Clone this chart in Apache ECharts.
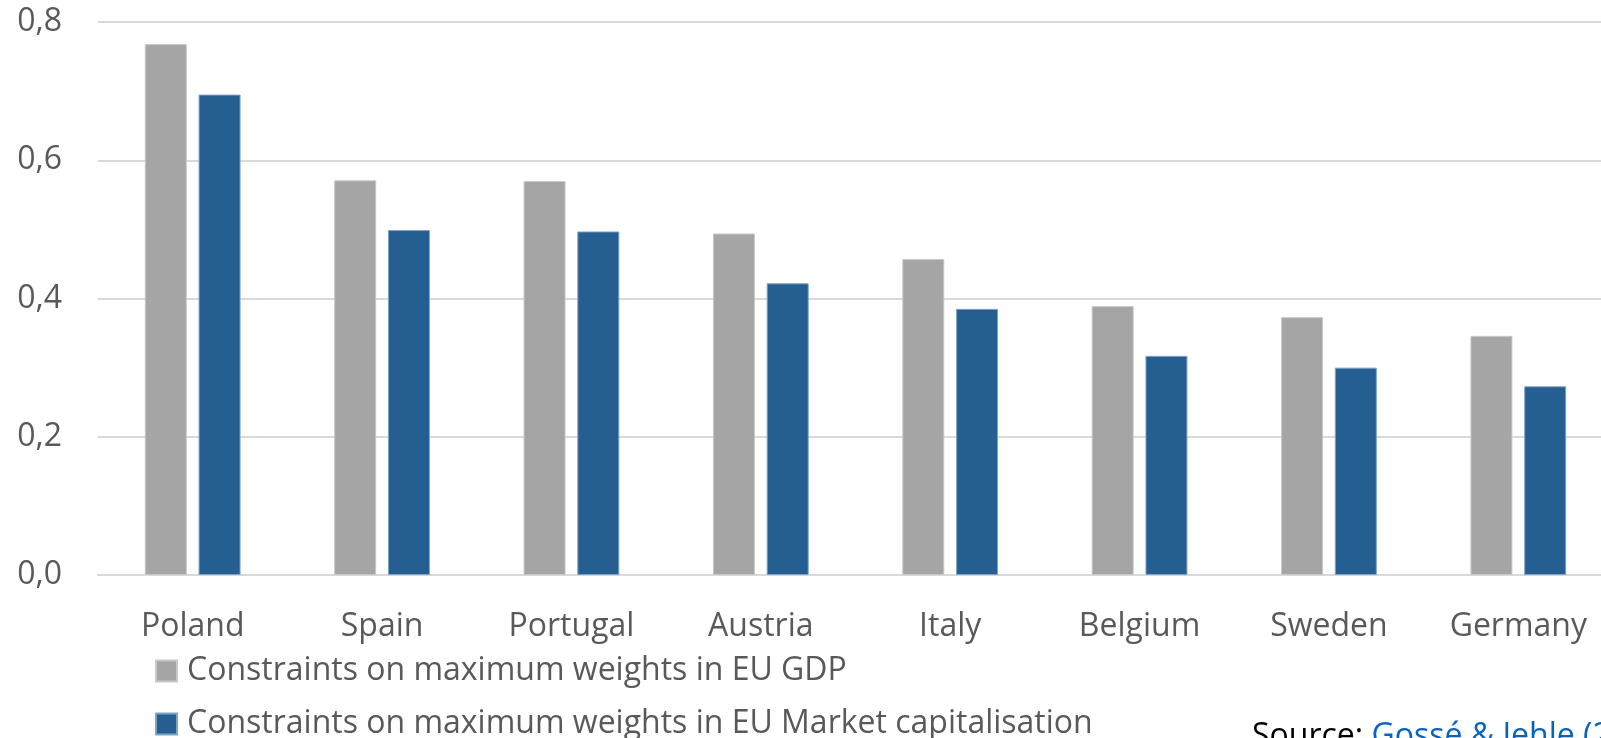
<!DOCTYPE html>
<html>
<head>
<meta charset="utf-8">
<script src="https://cdn.jsdelivr.net/npm/echarts@6/dist/echarts.min.js"></script>
<style>
  html, body { margin: 0; padding: 0; background: #ffffff; overflow: hidden; }
  #wrap { width: 1601px; height: 738px; overflow: hidden; }
  /* the plot runs slightly past the right edge of the page */
  #chart { width: 1613px; height: 738px; }
</style>
</head>
<body>
<div id="wrap"><div id="chart"></div></div>
<script>
// Countries on the category axis
const countries = ['Poland', 'Spain', 'Portugal', 'Austria', 'Italy', 'Belgium', 'Sweden', 'Germany'];
// Series names
const seriesNames = [
  'Constraints on maximum weights in EU GDP',
  'Constraints on maximum weights in EU Market capitalisation'
];
// Values per country
const gdpWeights = [0.768, 0.571, 0.570, 0.494, 0.457, 0.389, 0.373, 0.346];
const marketCapWeights = [0.695, 0.499, 0.497, 0.422, 0.385, 0.317, 0.300, 0.273];
// Value axis range
const yMin = 0, yMax = 0.8, yStep = 0.2;

const FONT = '"Open Sans", "Noto Sans", sans-serif';
const TEXT_GREY = '#595959';
const FS = 32;

const chart = echarts.init(document.getElementById('chart'), null, { renderer: 'canvas' });

// one legend block per series, stacked under the axis labels
const legendBlock = (name, top) => ({
  orient: 'horizontal',
  left: 155,
  top: top,
  itemWidth: 21,
  itemHeight: 21,
  itemGap: 0,
  icon: 'rect',
  padding: 0,
  textStyle: { color: TEXT_GREY, fontSize: FS, fontFamily: FONT, padding: [0, 0, 0, 5] },
  data: [name]
});

chart.setOption({
  backgroundColor: '#ffffff',
  animation: false,
  textStyle: { fontFamily: FONT },
  grid: { left: 98, right: 0, top: 22, bottom: 163, containLabel: false },
  legend: [legendBlock(seriesNames[0], 655), legendBlock(seriesNames[1], 708)],
  xAxis: {
    type: 'category',
    data: countries,
    axisLine: { show: true, lineStyle: { color: '#d9d9d9', width: 2 } },
    axisTick: { show: false },
    axisLabel: { color: TEXT_GREY, fontSize: FS, fontFamily: FONT, margin: 36, interval: 0 },
    splitLine: { show: false }
  },
  yAxis: {
    type: 'value',
    min: yMin,
    max: yMax,
    interval: yStep,
    axisLine: { show: false },
    axisTick: { show: false },
    axisLabel: {
      color: TEXT_GREY, fontSize: FS, fontFamily: FONT, margin: 36,
      formatter: v => v.toFixed(1).replace('.', ',')
    },
    splitLine: { show: true, lineStyle: { color: '#d9d9d9', width: 2 } }
  },
  series: [
    {
      name: seriesNames[0],
      type: 'bar',
      data: gdpWeights,
      barWidth: 42,
      barGap: '28%',
      itemStyle: { color: '#a5a5a5', borderColor: '#c8c8c8', borderWidth: 1 }
    },
    {
      name: seriesNames[1],
      type: 'bar',
      data: marketCapWeights,
      barWidth: 42,
      barGap: '28%',
      itemStyle: { color: '#255e91', borderColor: '#7fa3c4', borderWidth: 1 }
    }
  ],
  graphic: [
    {
      type: 'text',
      left: 1252,
      top: 721,
      style: {
        text: '{src|Source: }{link|Gossé & Jehle (2021)}',
        rich: {
          src: { fill: '#000000', fontSize: FS, fontFamily: FONT },
          link: { fill: '#0563c1', fontSize: FS, fontFamily: FONT }
        }
      }
    }
  ]
});
</script>
</body>
</html>
